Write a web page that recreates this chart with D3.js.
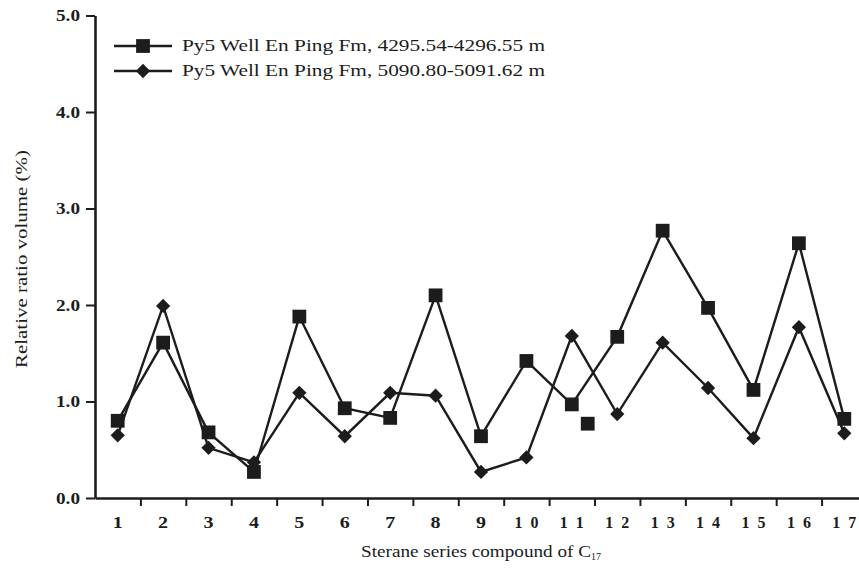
<!DOCTYPE html>
<html>
<head>
<meta charset="utf-8">
<script src="https://cdn.jsdelivr.net/npm/d3@7/dist/d3.min.js"></script>
<style>
  html, body { margin: 0; padding: 0; background: #fff; }
  svg { display: block; }
</style>
</head>
<body>
<svg id="chart" width="859" height="569"></svg>
<script>
// ---- data ----
const categories = [1,2,3,4,5,6,7,8,9,10,11,12,13,14,15,16,17];
const series1Name = "Py5 Well En Ping Fm, 4295.54-4296.55 m";
const series2Name = "Py5 Well En Ping Fm, 5090.80-5091.62 m";
const series1 = [0.80,1.61,0.68,0.27,1.88,0.93,0.83,2.10,0.64,1.42,0.97,1.67,2.77,1.97,1.12,2.64,0.82];
const series2 = [0.65,1.99,0.52,0.37,1.09,0.64,1.09,1.06,0.27,0.42,1.68,0.87,1.61,1.14,0.62,1.77,0.67];
// isolated square marker without connecting line (as in the figure)
const strayX = [11.35];
const strayV = [0.77];
const yTicks = [0,1,2,3,4,5];
const xTitle = "Sterane series compound of C";
const xTitleSub = "17";
const yTitle = "Relative ratio volume (%)";

// ---- layout ----
const FONT = '"Liberation Serif", "Times New Roman", serif';
const svg = d3.select("#chart");
const ink = "#1c1c1c";
const x = d3.scaleLinear().domain([0.5, 17.5]).range([95, 867]);
const y = d3.scaleLinear().domain([0, 5]).range([498, 15.5]);

// y axis
const yAxis = svg.append("g").attr("transform", `translate(${x(0.5)},0)`)
  .call(d3.axisLeft(y).tickValues(yTicks).tickFormat(d3.format(".1f")).tickSize(9).tickSizeOuter(0));
yAxis.select(".domain").attr("stroke", ink).attr("stroke-width", 2.6);
yAxis.selectAll(".tick line").attr("stroke", ink).attr("stroke-width", 2);
yAxis.selectAll(".tick text")
  .style("font-family", FONT).style("font-weight", "bold").style("font-size", "16px")
  .attr("fill", ink).attr("x", -15).attr("dy", "0.32em")
  .attr("textLength", 24).attr("lengthAdjust", "spacingAndGlyphs");

// x axis (ticks at category boundaries)
const boundaries = d3.range(1.5, 17, 1);
const xAxis = svg.append("g").attr("transform", `translate(0,${y(0)})`)
  .call(d3.axisBottom(x).tickValues(boundaries).tickFormat("").tickSize(8).tickSizeOuter(0));
xAxis.select(".domain").attr("stroke", ink).attr("stroke-width", 2.6);
xAxis.selectAll(".tick line").attr("stroke", ink).attr("stroke-width", 2);

// x category labels
svg.append("g").selectAll("text").data(categories).join("text")
  .attr("x", d => x(d))
  .attr("y", 528)
  .attr("text-anchor", "middle")
  .attr("fill", ink)
  .style("font-family", FONT).style("font-size", "16px").style("font-weight", "bold")
  .attr("textLength", d => d >= 10 ? 24 : 10)
  .attr("lengthAdjust", d => d >= 10 ? "spacing" : "spacingAndGlyphs")
  .text(d => d);

// axis titles
const xt = svg.append("text").attr("x", 361).attr("y", 557)
  .attr("fill", ink)
  .style("font-family", FONT).style("font-size", "17.5px");
xt.append("tspan").attr("textLength", 230).attr("lengthAdjust", "spacingAndGlyphs").text(xTitle);
xt.append("tspan").style("font-size", "10px").attr("dy", 3).text(xTitleSub);

svg.append("text").attr("transform", "translate(27,259) rotate(-90)")
  .attr("text-anchor", "middle").attr("fill", ink)
  .style("font-family", FONT).style("font-size", "17px")
  .attr("textLength", 218).attr("lengthAdjust", "spacingAndGlyphs")
  .text(yTitle);

// lines
const line = d3.line().x((d, i) => x(categories[i])).y(d => y(d));
[series1, series2].forEach(s => {
  svg.append("path").datum(s).attr("d", line)
    .attr("fill", "none").attr("stroke", ink).attr("stroke-width", 2.4)
    .attr("stroke-linejoin", "miter");
});

const sq = d3.symbol().type(d3.symbolSquare).size(190);
const dm = d3.symbol().type(d3.symbolDiamond2).size(130);

// square markers
svg.append("g").selectAll("path").data(series1).join("path")
  .attr("d", sq).attr("fill", ink)
  .attr("transform", (d, i) => `translate(${x(categories[i])},${y(d)})`);
svg.append("g").selectAll("path").data(strayV).join("path")
  .attr("d", sq).attr("fill", ink)
  .attr("transform", (d, i) => `translate(${x(strayX[i])},${y(d)})`);
// diamond markers
svg.append("g").selectAll("path").data(series2).join("path")
  .attr("d", dm).attr("fill", ink)
  .attr("transform", (d, i) => `translate(${x(categories[i])},${y(d)})`);

// legend
const legend = [
  {name: series1Name, sym: sq, yy: 46},
  {name: series2Name, sym: dm, yy: 71}
];
const lg = svg.append("g");
legend.forEach(l => {
  lg.append("line").attr("x1", 114).attr("x2", 172).attr("y1", l.yy).attr("y2", l.yy)
    .attr("stroke", ink).attr("stroke-width", 2.4);
  lg.append("path").attr("d", l.sym).attr("fill", ink).attr("transform", `translate(143,${l.yy})`);
  lg.append("text").attr("x", 182).attr("y", l.yy + 5).attr("fill", ink)
    .style("font-family", FONT).style("font-size", "17px")
    .attr("textLength", 363).attr("lengthAdjust", "spacingAndGlyphs")
    .text(l.name);
});
</script>
</body>
</html>
